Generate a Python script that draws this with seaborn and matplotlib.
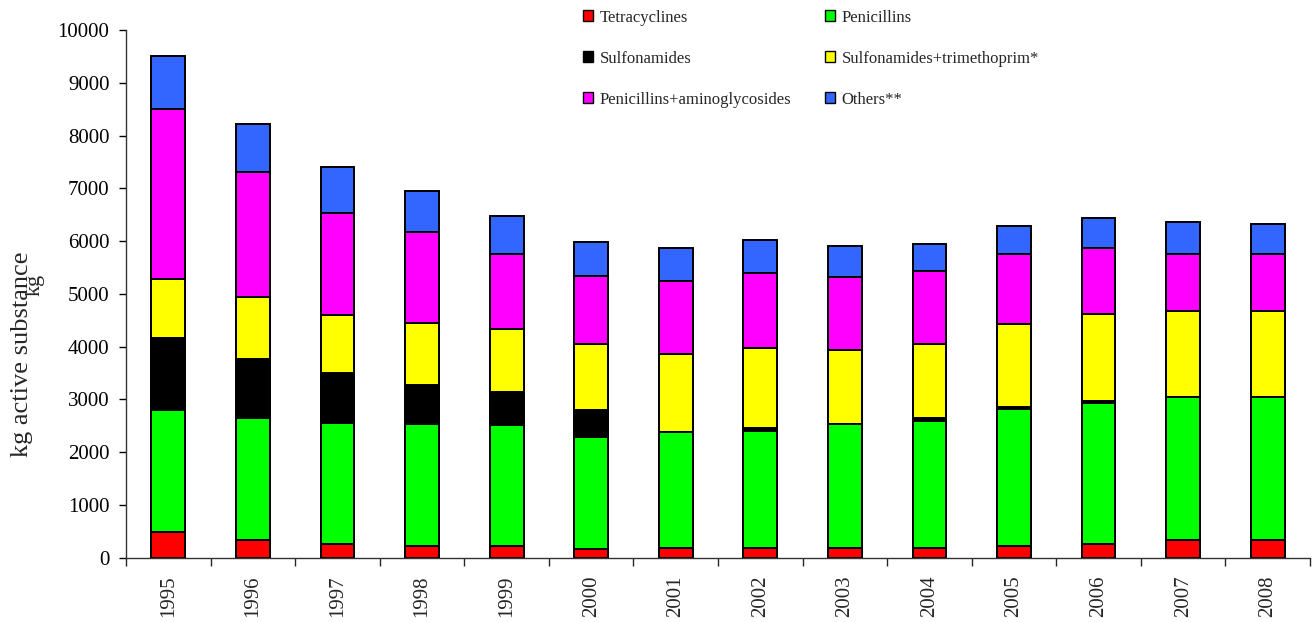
import numpy as np
import pandas as pd
import matplotlib
matplotlib.use("Agg")
import matplotlib.pyplot as plt
from matplotlib.patches import Patch
import seaborn as sns

years = ["1995", "1996", "1997", "1998", "1999", "2000", "2001",
         "2002", "2003", "2004", "2005", "2006", "2007", "2008"]
tetracyclines = [480, 335, 255, 215, 220, 160, 190, 190, 190, 190, 220, 260, 340, 340]
penicillins = [2325, 2318, 2293, 2324, 2293, 2134, 2192, 2211, 2338, 2401, 2596, 2666, 2710, 2710]
sulfonamides = [1365, 1112, 959, 738, 619, 512, 0, 63, 0, 55, 44, 49, 0, 0]
sulfa_tmp = [1105, 1181, 1099, 1175, 1206, 1250, 1484, 1510, 1408, 1409, 1561, 1637, 1624, 1624]
pen_amino = [3235, 2369, 1933, 1713, 1409, 1289, 1378, 1415, 1378, 1370, 1332, 1257, 1080, 1080]
others = [1000, 898, 860, 777, 720, 644, 631, 632, 593, 525, 525, 563, 601, 569]

series_names = ["Tetracyclines", "Penicillins", "Sulfonamides",
                "Sulfonamides+trimethoprim*", "Penicillins+aminoglycosides", "Others**"]
series_values = [tetracyclines, penicillins, sulfonamides, sulfa_tmp, pen_amino, others]
series_colors = ["#FF0000", "#00FF00", "#000000", "#FFFF00", "#FF00FF", "#3366FF"]

sns.set_style("ticks")
plt.rcParams["font.family"] = ["Liberation Serif", "DejaVu Serif"]

fig = plt.figure(figsize=(13.13, 6.22), dpi=100)
ax = fig.add_axes([0.096, 0.1034, 0.9017, 0.8484])

cum = np.cumsum(np.array(series_values, dtype=float), axis=0)
for i in range(len(series_values) - 1, -1, -1):
    df = pd.DataFrame({"year": years, "value": cum[i]})
    sns.barplot(data=df, x="year", y="value", color=series_colors[i], saturation=1,
                width=0.4, edgecolor="black", linewidth=1.4, ax=ax, zorder=2)

ax.set_ylim(0, 10000)
ax.set_xlim(-0.5, 13.5)
ax.set_yticks(np.arange(0, 10001, 1000))
ax.tick_params(axis="y", labelsize=15, length=5, width=1, direction="out", pad=7, colors="black")
ax.set_xticks(np.arange(len(years)))
ax.set_xticklabels(years, rotation=90)
ax.tick_params(axis="x", which="major", length=0, labelsize=15, pad=13)
ax.set_xticks(np.arange(-0.5, len(years), 1.0), minor=True)
ax.tick_params(axis="x", which="minor", length=6, width=1, direction="out")
for s in ["top", "right"]:
    ax.spines[s].set_visible(False)
for s in ["left", "bottom"]:
    ax.spines[s].set_color("#333333")
    ax.spines[s].set_linewidth(1.0)
ax.set_xlabel("")
ax.set_ylabel("")

fig.text(0.017, 0.43, "kg active substance", rotation=90, fontsize=19,
         ha="center", va="center")
fig.text(0.027, 0.542, "kg", rotation=90, fontsize=16, ha="center", va="center")

order = [0, 2, 4, 1, 3, 5]
handles = [Patch(facecolor=series_colors[i], edgecolor="black", linewidth=1.0) for i in order]
labels = [series_names[i] for i in order]
fig.legend(handles, labels, ncol=2, frameon=False, loc="upper left",
           bbox_to_anchor=(0.434, 1.006), fontsize=12, handlelength=0.6, handleheight=0.65,
           handletextpad=0.4, labelspacing=1.5, columnspacing=2.0, borderpad=0.3)

fig.savefig("out.png", dpi=100)
